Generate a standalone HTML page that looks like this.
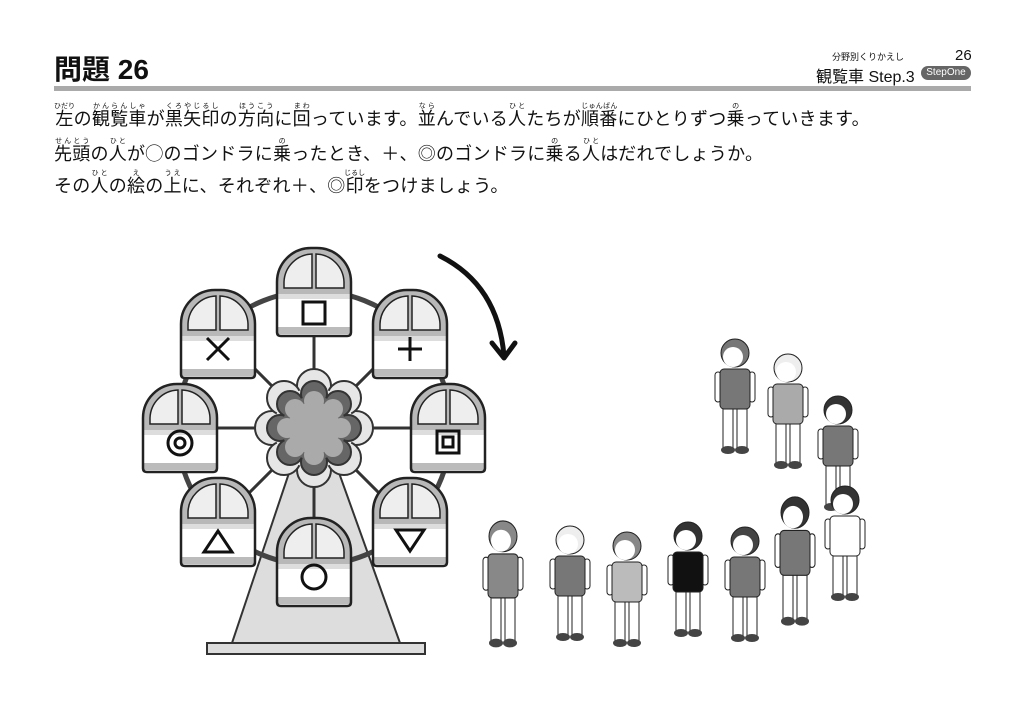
<!DOCTYPE html>
<html><head><meta charset="utf-8"><style>
body{margin:0;width:1024px;height:724px;background:#fff;position:relative;overflow:hidden;font-family:"Liberation Sans","Noto Sans CJK JP",sans-serif;color:#111}
.a{position:absolute;white-space:nowrap}
.l{font-size:18px;left:54px;letter-spacing:0.25px}
rt{font-size:7px;letter-spacing:0}
</style></head><body>
<div class="a" style="left:54px;top:48px;font-size:28px;font-weight:bold">問題 26</div>
<div class="a" style="left:832px;top:50px;font-size:9px">分野別くりかえし</div>
<div class="a" style="left:955px;top:47px;font-size:15px">26</div>
<div class="a" style="left:816px;top:63px;font-size:16px">観覧車 Step.3</div>
<div class="a" style="left:921px;top:66px;width:50px;height:14px;border-radius:7px;background:#666;color:#fff;font-size:10px;text-align:center;line-height:14px">StepOne</div>
<div class="a" style="left:54px;top:86px;width:917px;height:5px;background:#aaa"></div>
<div class="a l" style="top:103px"><ruby>左<rt>ひだり</rt></ruby>の<ruby>観覧車<rt>かんらんしゃ</rt></ruby>が<ruby>黒矢印<rt>くろやじるし</rt></ruby>の<ruby>方向<rt>ほうこう</rt></ruby>に<ruby>回<rt>まわ</rt></ruby>っています。<ruby>並<rt>なら</rt></ruby>んでいる<ruby>人<rt>ひと</rt></ruby>たちが<ruby>順番<rt>じゅんばん</rt></ruby>にひとりずつ<ruby>乗<rt>の</rt></ruby>っていきます。</div>
<div class="a l" style="top:138px"><ruby>先頭<rt>せんとう</rt></ruby>の<ruby>人<rt>ひと</rt></ruby>が◯のゴンドラに<ruby>乗<rt>の</rt></ruby>ったとき、＋、◎のゴンドラに<ruby>乗<rt>の</rt></ruby>る<ruby>人<rt>ひと</rt></ruby>はだれでしょうか。</div>
<div class="a l" style="top:170px">その<ruby>人<rt>ひと</rt></ruby>の<ruby>絵<rt>え</rt></ruby>の<ruby>上<rt>うえ</rt></ruby>に、それぞれ＋、◎<ruby>印<rt>じるし</rt></ruby>をつけましょう。</div>

<svg class="a" style="left:0;top:0" width="1024" height="724" viewBox="0 0 1024 724">
<defs>
<g id="gd">
<path d="M4,88 Q0,88 0,84 L0,34 A34,34 0 0 1 34,0 L40,0 A34,34 0 0 1 74,34 L74,84 Q74,88 70,88 Z" fill="#fff"/>
<path d="M0,46 L0,34 A34,34 0 0 1 34,0 L40,0 A34,34 0 0 1 74,34 L74,46 Z" fill="#b8b8b8"/>
<path d="M7,40 L7,34 A29,29 0 0 1 35,6 L35,40 Z" fill="#eee" stroke="#222" stroke-width="1.5"/>
<path d="M39,6 A29,29 0 0 1 67,34 L67,40 L39,40 Z" fill="#eee" stroke="#222" stroke-width="1.5"/>
<rect x="1" y="46" width="72" height="5" fill="#ddd"/>
<rect x="1" y="79" width="72" height="7" fill="#bbb"/>
<path d="M4,88 Q0,88 0,84 L0,34 A34,34 0 0 1 34,0 L40,0 A34,34 0 0 1 74,34 L74,84 Q74,88 70,88 Z" fill="none" stroke="#222" stroke-width="2.5"/>
</g>
<g id="p">
<rect x="-20" y="32" width="6" height="30" rx="3" fill="#fff" stroke="#222"/>
<rect x="14" y="32" width="6" height="30" rx="3" fill="#fff" stroke="#222"/>
<rect x="-12" y="66" width="10" height="42" fill="var(--q)" stroke="#222"/>
<rect x="2" y="66" width="10" height="42" fill="var(--q)" stroke="#222"/>
<rect x="-15" y="29" width="30" height="40" rx="4" fill="var(--s)" stroke="#222"/>
<circle cx="0" cy="13" r="14" fill="var(--h)" stroke="#222"/>
<circle cx="-2" cy="17" r="10" fill="#fff"/>
<ellipse cx="-7" cy="110" rx="7" ry="4" fill="#444"/>
<ellipse cx="7" cy="110" rx="7" ry="4" fill="#444"/>
</g>
</defs>
<polygon points="290,470 338,470 400,643 232,643" fill="#ddd" stroke="#333" stroke-width="2"/>
<rect x="207" y="643" width="218" height="11" fill="#ddd" stroke="#333" stroke-width="2"/>
<circle cx="314" cy="428" r="137" fill="none" stroke="#444" stroke-width="5"/>
<g stroke="#333" stroke-width="3">
<line x1="314" y1="428" x2="314" y2="291"/><line x1="314" y1="428" x2="314" y2="565"/>
<line x1="314" y1="428" x2="177" y2="428"/><line x1="314" y1="428" x2="451" y2="428"/>
<line x1="314" y1="428" x2="217" y2="331"/><line x1="314" y1="428" x2="411" y2="331"/>
<line x1="314" y1="428" x2="217" y2="525"/><line x1="314" y1="428" x2="411" y2="525"/>
</g>
<g stroke="#333" stroke-width="2">
<g fill="#e6e6e6"><circle cx="314" cy="386" r="17"/><circle cx="314" cy="470" r="17"/><circle cx="272" cy="428" r="17"/><circle cx="356" cy="428" r="17"/><circle cx="284" cy="398" r="17"/><circle cx="344" cy="398" r="17"/><circle cx="284" cy="458" r="17"/><circle cx="344" cy="458" r="17"/><circle cx="314" cy="428" r="40" stroke="none"/></g>
<g fill="#666"><circle cx="314" cy="394" r="13"/><circle cx="314" cy="462" r="13"/><circle cx="280" cy="428" r="13"/><circle cx="348" cy="428" r="13"/><circle cx="290" cy="404" r="13"/><circle cx="338" cy="404" r="13"/><circle cx="290" cy="452" r="13"/><circle cx="338" cy="452" r="13"/><circle cx="314" cy="428" r="32" stroke="none"/></g>
<g fill="#aaa" stroke="none"><circle cx="314" cy="401" r="10"/><circle cx="314" cy="455" r="10"/><circle cx="287" cy="428" r="10"/><circle cx="341" cy="428" r="10"/><circle cx="295" cy="409" r="10"/><circle cx="333" cy="409" r="10"/><circle cx="295" cy="447" r="10"/><circle cx="333" cy="447" r="10"/><circle cx="314" cy="428" r="26"/></g>
</g>
<use href="#gd" x="277" y="248"/><use href="#gd" x="181" y="290"/><use href="#gd" x="373" y="290"/>
<use href="#gd" x="143" y="384"/><use href="#gd" x="411" y="384"/>
<use href="#gd" x="181" y="478"/><use href="#gd" x="373" y="478"/><use href="#gd" x="277" y="518"/>
<g fill="none" stroke="#111" stroke-width="3">
<rect x="303" y="302" width="22" height="22"/>
<path d="M207,338 L229,360 M229,338 L207,360"/>
<path d="M410,337 V361 M398,349 H422"/>
<circle cx="180" cy="443" r="12"/><circle cx="180" cy="443" r="5"/>
<rect x="437" y="431" width="22" height="22"/><rect x="443" y="437" width="10" height="10"/>
<polygon points="218,531 204,552 232,552"/>
<polygon points="410,551 396,530 424,530"/>
<circle cx="314" cy="577" r="12"/>
</g>
<path d="M440,256 Q498,285 504,356" fill="none" stroke="#111" stroke-width="5" stroke-linecap="round"/>
<polyline points="492,343 504,358 515,343" fill="none" stroke="#111" stroke-width="5" stroke-linecap="round" stroke-linejoin="round"/>
<use href="#p" transform="translate(735,340)" style="--s:#777;--q:#fff;--h:#777"/>
<use href="#p" transform="translate(788,355)" style="--s:#aaa;--q:#fff;--h:#eee"/>
<use href="#p" transform="translate(838,397)" style="--s:#777;--q:#fff;--h:#333"/>
<use href="#p" transform="translate(845,487)" style="--s:#fff;--q:#fff;--h:#333"/>
<use href="#p" transform="translate(795,498) scale(1,1.12)" style="--s:#777;--q:#fff;--h:#333"/>
<use href="#p" transform="translate(745,528)" style="--s:#777;--q:#fff;--h:#444"/>
<use href="#p" transform="translate(688,523)" style="--s:#111;--q:#fff;--h:#333"/>
<use href="#p" transform="translate(627,533)" style="--s:#bbb;--q:#fff;--h:#888"/>
<use href="#p" transform="translate(570,527)" style="--s:#777;--q:#fff;--h:#eee"/>
<use href="#p" transform="translate(503,522) scale(1,1.1)" style="--s:#888;--q:#fff;--h:#888"/>
</svg>
</body></html>
